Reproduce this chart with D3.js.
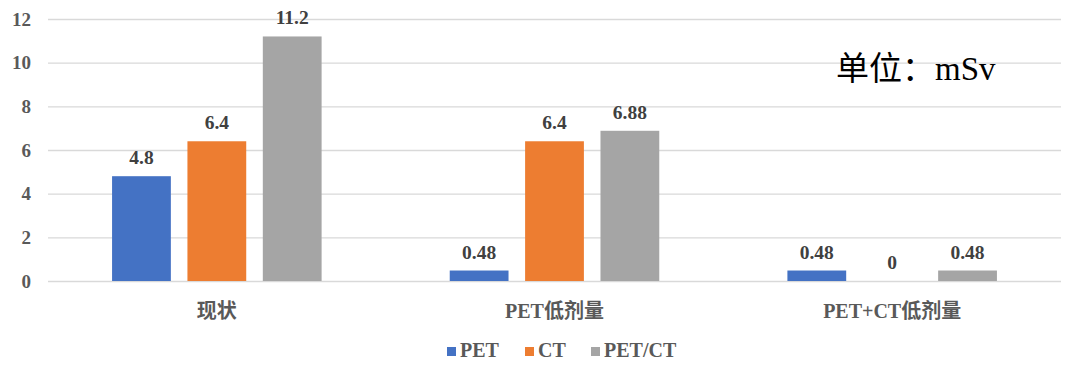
<!DOCTYPE html>
<html>
<head>
<meta charset="utf-8">
<script src="https://cdn.jsdelivr.net/npm/d3@7"></script>
<style>
  body { margin: 0; background: #fff; }
  svg { display: block; }
</style>
</head>
<body>
<svg id="vis" width="1080" height="381"></svg>
<script>
const categories = ['现状', 'PET低剂量', 'PET+CT低剂量'];
const seriesNames = ['PET', 'CT', 'PET/CT'];
const petValues = [4.8, 0.48, 0.48];
const ctValues = [6.4, 6.4, 0];
const petctValues = [11.2, 6.88, 0.48];
const yTicks = [0, 2, 4, 6, 8, 10, 12];
const colors = ['#4472C4', '#ED7D31', '#A5A5A5'];

const seriesValues = [petValues, ctValues, petctValues];
const serifFont = '"Liberation Serif", "Noto Sans CJK SC", serif';

const vis = d3.select('#vis');
const plotLeft = 48, plotRight = 1061, plotTop = 19, plotBottom = 281;

const x0 = d3.scaleBand().domain(categories).range([plotLeft, plotRight]).padding(0);
const x1 = d3.scaleBand().domain(seriesNames).range([0, x0.bandwidth()])
  .paddingInner(0.22).paddingOuter(0.85);
const y = d3.scaleLinear().domain([0, 12]).range([plotBottom, plotTop]);

// gridlines + tick labels via axis
const yAxis = vis.append('g')
  .attr('transform', 'translate(' + plotLeft + ',0)')
  .call(d3.axisLeft(y).tickValues(yTicks).tickSize(-(plotRight - plotLeft)).tickPadding(17));
yAxis.select('.domain').remove();
yAxis.selectAll('.tick line').attr('stroke', '#d9d9d9').attr('stroke-width', 1.3);
yAxis.selectAll('.tick text')
  .attr('fill', '#595959')
  .style('font-size', '19px')
  .style('font-weight', 'bold')
  .style('font-family', serifFont);

// bars
const groups = vis.selectAll('g.cat')
  .data(categories)
  .enter()
  .append('g')
    .classed('cat', true)
    .attr('transform', d => 'translate(' + x0(d) + ',0)');

groups.selectAll('rect')
  .data((d, i) => seriesNames.map((s, j) => ({ s: s, v: seriesValues[j][i], c: colors[j] })))
  .enter()
  .append('rect')
    .attr('x', d => x1(d.s))
    .attr('y', d => y(d.v))
    .attr('width', x1.bandwidth())
    .attr('height', d => y(0) - y(d.v))
    .attr('fill', d => d.c);

groups.selectAll('text.val')
  .data((d, i) => seriesNames.map((s, j) => ({ s: s, v: seriesValues[j][i] })))
  .enter()
  .append('text')
    .classed('val', true)
    .attr('x', d => x1(d.s) + x1.bandwidth() / 2)
    .attr('y', d => y(d.v) - 12)
    .attr('text-anchor', 'middle')
    .attr('fill', '#404040')
    .style('font-size', '19.5px')
    .style('font-weight', 'bold')
    .style('font-family', serifFont)
    .text(d => d.v);

// category labels
vis.append('g')
  .attr('transform', 'translate(0,' + plotBottom + ')')
  .selectAll('text')
  .data(categories)
  .enter()
  .append('text')
    .attr('x', d => x0(d) + x0.bandwidth() / 2)
    .attr('y', 37)
    .attr('text-anchor', 'middle')
    .attr('fill', '#595959')
    .style('font-size', '20px')
    .style('font-weight', 'bold')
    .style('font-family', serifFont)
    .text(d => d);

// legend
const legendX = [447, 525, 591];
const legend = vis.append('g');
const items = legend.selectAll('g')
  .data(seriesNames)
  .enter()
  .append('g')
    .attr('transform', (d, i) => 'translate(' + legendX[i] + ',347)');
items.append('rect')
  .attr('width', 9).attr('height', 9)
  .attr('fill', (d, i) => colors[i]);
items.append('text')
  .attr('x', 13).attr('y', 10)
  .attr('fill', '#595959')
  .style('font-size', '20px')
  .style('font-weight', 'bold')
  .style('font-family', serifFont)
  .text(d => d);

// unit annotation
const unit = vis.append('text')
  .attr('x', 836)
  .attr('y', 80)
  .attr('fill', '#000')
  .style('font-size', '33px');
unit.append('tspan').style('font-family', '"Noto Sans CJK SC", sans-serif').text('单位：');
unit.append('tspan').style('font-family', '"Liberation Serif", serif').text('mSv');
</script>
</body>
</html>
